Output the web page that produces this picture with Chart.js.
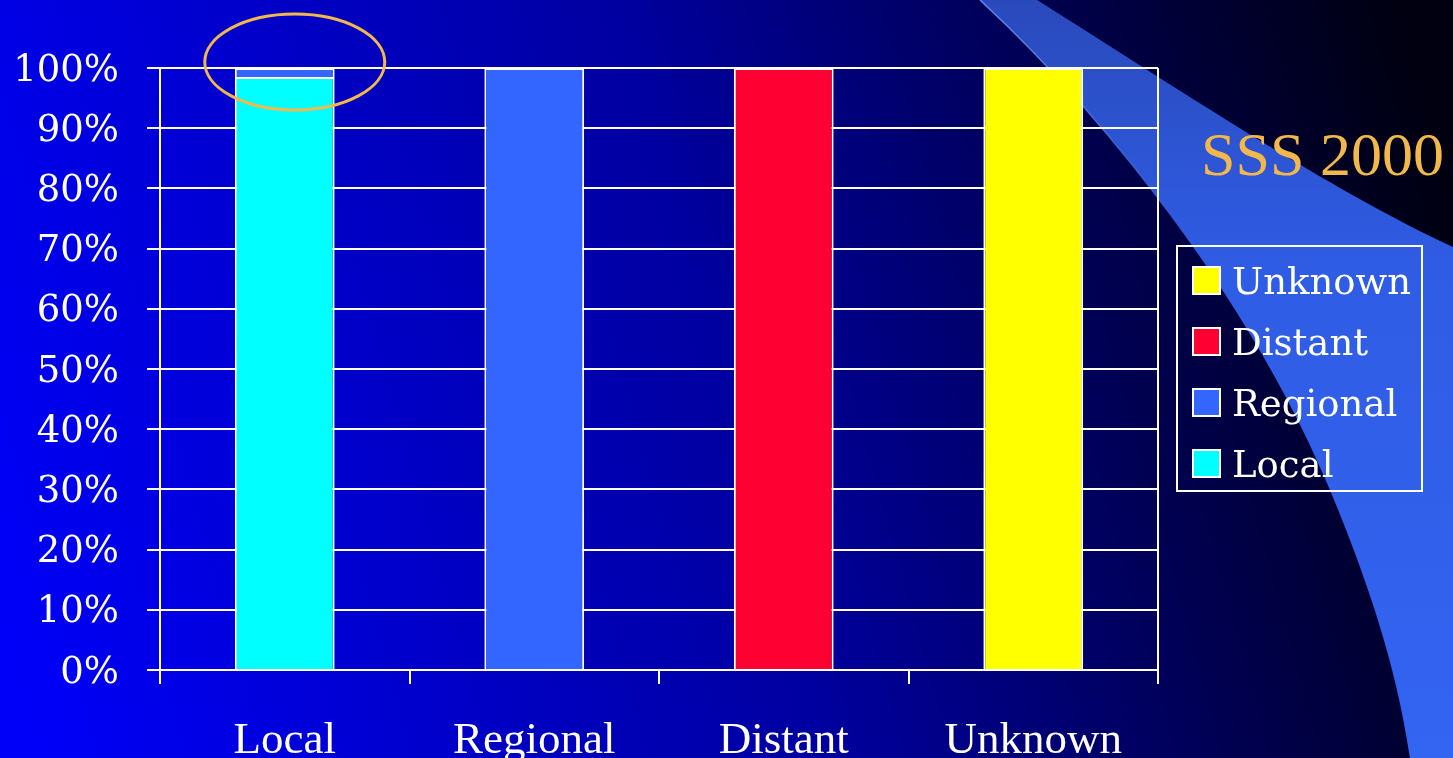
<!DOCTYPE html>
<html>
<head>
<meta charset="utf-8">
<script src="https://cdn.jsdelivr.net/npm/chart.js@4/dist/chart.umd.min.js"></script>
<style>
  html, body { margin: 0; padding: 0; background: #000080; overflow: hidden; }
  #wrap { position: relative; width: 1453px; height: 758px; }
  canvas { display: block; }
</style>
</head>
<body>
<div id="wrap"><canvas id="c" width="1453" height="758"></canvas></div>
<script>
// ---- data ----
const categories = ['Local', 'Regional', 'Distant', 'Unknown'];
const localValues = [98.5, 0, 0, 0];
const regionalValues = [1.5, 100, 0, 0];
const distantValues = [0, 0, 100, 0];
const unknownValues = [0, 0, 0, 100];
const seriesNames = ['Local', 'Regional', 'Distant', 'Unknown'];
const seriesColors = ['#00ffff', '#3366ff', '#ff0033', '#ffff00'];
const yTickStep = 10;
const titleText = 'SSS 2000';

const seriesValues = [localValues, regionalValues, distantValues, unknownValues];

const datasets = seriesNames.map((name, i) => ({
  label: name,
  data: seriesValues[i].map(v => (v === 0 ? null : v)),
  backgroundColor: seriesColors[i],
  borderColor: '#ffffff',
  borderWidth: 2,
  borderSkipped: 'start',
  categoryPercentage: 1.0,
  barPercentage: 0.4
}));

// background with gradient and curved light band
const backgroundPlugin = {
  id: 'bg',
  beforeDraw(chart) {
    const ctx = chart.ctx;
    const W = chart.width, H = chart.height;
    ctx.save();
    const g = ctx.createLinearGradient(0, 600, W, 200);
    g.addColorStop(0, '#0000f8');
    g.addColorStop(0.5, '#0000a0');
    g.addColorStop(0.78, '#00004c');
    g.addColorStop(1, '#000010');
    ctx.fillStyle = g;
    ctx.fillRect(0, 0, W, H);

    // light band
    ctx.beginPath();
    ctx.moveTo(980, 0);
    ctx.bezierCurveTo(1120, 130, 1260, 320, 1330, 490);
    ctx.bezierCurveTo(1380, 610, 1400, 690, 1410, 758);
    ctx.lineTo(W, H);
    ctx.lineTo(W, 247);
    ctx.bezierCurveTo(1330, 190, 1180, 90, 1037, 0);
    ctx.closePath();
    const bg = ctx.createLinearGradient(0, 0, 0, H);
    bg.addColorStop(0, '#2a4abc');
    bg.addColorStop(0.35, '#2f5ce4');
    bg.addColorStop(1, '#3364f2');
    ctx.fillStyle = bg;
    ctx.fill();

    // faint highlight on band's upper left edge
    ctx.beginPath();
    ctx.moveTo(980, 0);
    ctx.bezierCurveTo(1120, 130, 1260, 320, 1330, 490);
    const hl = ctx.createLinearGradient(0, 0, 0, 260);
    hl.addColorStop(0, 'rgba(100,150,255,0.9)');
    hl.addColorStop(1, 'rgba(100,150,255,0)');
    ctx.strokeStyle = hl;
    ctx.lineWidth = 1.5;
    ctx.stroke();
    ctx.restore();
  }
};

// frame, legend, title, ellipse
const overlayPlugin = {
  id: 'overlay',
  afterDraw(chart) {
    const ctx = chart.ctx;
    const area = chart.chartArea;
    const xs = chart.scales.x, ys = chart.scales.y;
    ctx.save();
    // right frame line
    ctx.strokeStyle = '#ffffff';
    ctx.lineWidth = 2;
    ctx.beginPath();
    ctx.moveTo(area.right, area.top);
    ctx.lineTo(area.right, area.bottom + 14);
    ctx.stroke();

    // title
    ctx.fillStyle = '#f2b84b';
    ctx.font = '62px "Liberation Serif", serif';
    ctx.textAlign = 'left';
    ctx.textBaseline = 'alphabetic';
    ctx.fillText(titleText, 1201, 175);

    // legend box
    ctx.strokeStyle = '#ffffff';
    ctx.lineWidth = 2;
    ctx.strokeRect(1177, 246, 245, 245);
    const items = chart.data.datasets.map(d => ({ label: d.label, color: d.backgroundColor })).reverse();
    ctx.font = '37px "DejaVu Serif", serif';
    items.forEach((it, i) => {
      const cy = 280 + i * 61;
      ctx.fillStyle = it.color;
      ctx.fillRect(1193, cy - 13, 27, 27);
      ctx.strokeStyle = '#ffffff';
      ctx.lineWidth = 2;
      ctx.strokeRect(1193, cy - 13, 27, 27);
      ctx.fillStyle = '#ffffff';
      ctx.fillText(it.label, 1232, cy + 14);
    });

    // highlight ellipse around top of Local bar
    const cx = xs.getPixelForValue(0) + 10;
    const cyE = ys.getPixelForValue(100) - 6;
    ctx.strokeStyle = '#f2b84b';
    ctx.lineWidth = 3;
    ctx.beginPath();
    ctx.ellipse(cx, cyE, 90, 48, 0, 0, Math.PI * 2);
    ctx.stroke();
    ctx.restore();
  }
};

new Chart(document.getElementById('c'), {
  type: 'bar',
  data: { labels: categories, datasets },
  options: {
    responsive: false,
    animation: false,
    events: [],
    layout: { padding: { top: 68, right: 295, bottom: 0, left: 0 } },
    plugins: { legend: { display: false }, tooltip: { enabled: false }, title: { display: false } },
    scales: {
      x: {
        stacked: true,
        offset: true,
        grid: { display: true, offset: true, drawOnChartArea: false, drawTicks: true, tickLength: 14, color: '#ffffff', lineWidth: 2 },
        border: { display: true, color: '#ffffff', width: 2 },
        ticks: { color: '#ffffff', padding: 30, font: { family: '"Liberation Serif", serif', size: 45 } },
        afterFit(s) { s.height = 88; }
      },
      y: {
        stacked: true,
        min: 0,
        max: 100,
        grid: { color: '#ffffff', lineWidth: 2, tickLength: 13, drawTicks: true },
        border: { display: true, color: '#ffffff', width: 2 },
        ticks: {
          stepSize: yTickStep,
          color: '#ffffff',
          padding: 28,
          labelOffset: 3,
          font: { family: '"DejaVu Serif", serif', size: 37 },
          callback: v => v + '%'
        },
        afterFit(s) { s.width = 160; }
      }
    }
  },
  plugins: [backgroundPlugin, overlayPlugin]
});
</script>
</body>
</html>
